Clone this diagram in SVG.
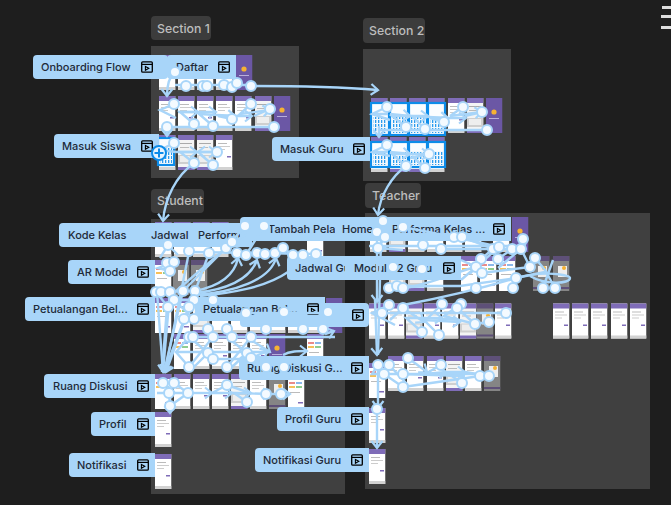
<svg xmlns="http://www.w3.org/2000/svg" width="671" height="505" viewBox="0 0 671 505">
<style>
.sec{fill:#404040}
.chip{fill:#3c3c3c}
.cht{font:500 12.3px Inter,"Liberation Sans",sans-serif;fill:#bdbdbd}
.lb{fill:#a8d5f9}
.lt{font:500 11px Inter,"Liberation Sans",sans-serif;fill:#1e2a38}
.c{fill:none;stroke:#a8d5f9;stroke-width:2.4}
.a{marker-end:url(#ah)}
.d{fill:#f4faff;stroke:#a8d5f9;stroke-width:2}
.sb{fill:#fbfdff;stroke:#0d8ce9;stroke-width:2.2}
.sh{fill:url(#selp)}
</style>
<defs>
<marker id="ah" markerUnits="userSpaceOnUse" markerWidth="12" markerHeight="14" refX="9" refY="7" orient="auto"><path d="M2 1.500L9 7L2 12.500" fill="none" stroke="#a8d5f9" stroke-width="2.200"/></marker>
<pattern id="selp" width="3" height="4" patternUnits="userSpaceOnUse"><rect width="3" height="4" fill="#f2f8fd"/><rect width="1.300" height="3" fill="#2a9bee"/></pattern>
<symbol id="s" width="16.5" height="35" viewBox="0 0 16.5 35"><rect width="16.5" height="35" fill="#fff"/><rect width="16.5" height="5" fill="#7f6cb8"/><rect x="2" y="8" width="9" height="1" fill="#bbb"/><rect x="2" y="11" width="12" height="1" fill="#ccc"/><rect x="2" y="14" width="7" height="1" fill="#ccc"/><rect x="11" y="21" width="4" height="1.500" fill="#7f6cb8"/><rect y="32" width="16.5" height="3" fill="#d2d2d2"/></symbol>
<symbol id="m" width="16.5" height="35" viewBox="0 0 16.5 35"><rect width="16.5" height="35" fill="#f4f4f4"/><rect width="16.5" height="5" fill="#7f6cb8"/><rect x="2" y="8" width="12" height="1" fill="#aaa"/><rect x="2" y="12" width="9" height="1" fill="#bbb"/><rect y="20" width="16.5" height="9" fill="#cfcfcf"/><rect x="2" y="21" width="12" height="6" fill="#eee"/><rect y="32" width="16.5" height="3" fill="#7f6cb8"/></symbol>
<symbol id="p" width="16.5" height="35" viewBox="0 0 16.5 35"><rect width="16.5" height="35" fill="#6b57a5"/><circle cx="8" cy="14" r="2.600" fill="#f6b233"/><rect x="3" y="20" width="10" height="1" fill="#b9aedb"/></symbol>
<symbol id="g" width="16.5" height="35" viewBox="0 0 16.5 35"><rect width="16.5" height="35" fill="#858585"/><rect width="16.5" height="5" fill="#5e5078"/><rect x="5" y="10" width="9" height="11" fill="#eee"/><circle cx="11" cy="12" r="2" fill="#f6b233"/><rect y="31" width="16.5" height="2" fill="#5e5078"/></symbol>
<symbol id="c" width="16.5" height="35" viewBox="0 0 16.5 35"><rect width="16.5" height="35" fill="#fff"/><rect width="16.5" height="5" fill="#7f6cb8"/><rect x="1" y="8" width="6" height="2" fill="#e98a8a"/><rect x="8" y="8" width="6" height="2" fill="#8ab8ea"/><rect x="1" y="12" width="6" height="2" fill="#f6c05a"/><rect x="8" y="12" width="6" height="2" fill="#8fcd8f"/><rect x="2" y="18" width="10" height="1" fill="#bbb"/><rect x="10" y="28" width="5" height="1.500" fill="#7f6cb8"/></symbol>
<symbol id="i" width="12" height="12" viewBox="0 0 12 12"><rect x=".7" y=".8" width="10.600" height="10.400" rx="1" fill="none" stroke="#000" stroke-width="1.300"/><path d="M.7 3.400H11.300" stroke="#000" stroke-width="1.200"/><path d="M4.400 5.400L7.800 7.300L4.400 9.200Z" fill="none" stroke="#000" stroke-width="1.100"/></symbol>
</defs>
<rect width="671" height="505" fill="#1e1e1e"/>
<g fill="#ddd"><rect x="662" y="6" width="9" height="3"/><rect x="661" y="15" width="10" height="3"/><rect x="661" y="26" width="10" height="3"/></g>
<g id="sections">
<rect class="sec" x="151" y="46" width="148" height="132"/>
<rect class="sec" x="363" y="49" width="148" height="132"/>
<rect class="sec" x="151" y="219" width="194" height="275"/>
<rect class="sec" x="365" y="213" width="285" height="276"/>
<rect class="chip" x="151" y="16" width="60" height="24" rx="4"/><text class="cht" x="157" y="32.500">Section 1</text>
<rect class="chip" x="363" y="18" width="62" height="25" rx="4"/><text class="cht" x="369" y="35">Section 2</text>
<rect class="chip" x="151" y="189" width="53" height="24" rx="4"/><text class="cht" x="157" y="205">Student</text>
<rect class="chip" x="365" y="183" width="56" height="25" rx="4"/><text class="cht" x="372" y="200">Teacher</text>
</g>
<g id="screens">
<use href="#s" x="159" y="55"/><use href="#s" x="178" y="55"/><use href="#s" x="197" y="55"/><use href="#s" x="216" y="55"/><use href="#p" x="236" y="55"/>
<use href="#s" x="159" y="96"/><use href="#s" x="178" y="96"/><use href="#s" x="197" y="96"/><use href="#s" x="216" y="96"/><use href="#s" x="235" y="96"/><use href="#m" x="255" y="96"/><use href="#p" x="274" y="96"/>
<use href="#s" x="159" y="135"/><use href="#m" x="178" y="135"/><use href="#m" x="197" y="135"/><use href="#s" x="216" y="135"/>
<use href="#s" x="371" y="98"/><use href="#s" x="390" y="98"/><use href="#s" x="409" y="98"/><use href="#s" x="428" y="98"/><use href="#s" x="448" y="98"/><use href="#m" x="467" y="98"/><use href="#p" x="486" y="98"/>
<use href="#s" x="371" y="137"/><use href="#m" x="390" y="137"/><use href="#m" x="409" y="137"/><use href="#s" x="428" y="137"/>
<use href="#s" x="155" y="222"/><use href="#s" x="174" y="222"/><use href="#s" x="193" y="222"/><use href="#s" x="212" y="222"/><use href="#c" x="307" y="222"/>
<use href="#c" x="155" y="260"/><use href="#g" x="173" y="260"/><use href="#g" x="191" y="260"/>
<use href="#c" x="155" y="298"/><use href="#c" x="174" y="298"/><use href="#m" x="193" y="298"/><use href="#s" x="212" y="298"/><use href="#s" x="231" y="298"/><use href="#s" x="250" y="298"/><use href="#s" x="269" y="298"/><use href="#s" x="288" y="298"/><use href="#s" x="307" y="298"/><use href="#p" x="326" y="298"/>
<use href="#c" x="174" y="334"/><use href="#s" x="193" y="334"/><use href="#s" x="212" y="334"/><use href="#s" x="231" y="334"/><use href="#s" x="250" y="334"/><use href="#p" x="269" y="334"/><use href="#c" x="307" y="334"/>
<use href="#c" x="155" y="374"/><use href="#s" x="174" y="374"/><use href="#s" x="193" y="374"/><use href="#s" x="212" y="374"/><use href="#m" x="231" y="374"/><use href="#s" x="250" y="374"/><use href="#g" x="269" y="374"/><use href="#c" x="288" y="374"/>
<use href="#s" x="155" y="412"/><use href="#s" x="155" y="453" height="37"/>
<use href="#s" x="370" y="217"/><use href="#m" x="389" y="217"/><use href="#s" x="408" y="217"/><use href="#s" x="427" y="217"/><use href="#s" x="446" y="217"/><use href="#s" x="465" y="217"/><use href="#s" x="493" y="217"/><use href="#p" x="512" y="217"/>
<use href="#m" x="389" y="256"/><use href="#m" x="408" y="256"/><use href="#s" x="427" y="256"/><use href="#c" x="461" y="256"/><use href="#c" x="480" y="256"/><use href="#c" x="499" y="256"/><use href="#g" x="533" y="256"/><use href="#g" x="553" y="256"/>
<use href="#s" x="369" y="302" height="38"/><use href="#s" x="388" y="302" height="38"/><use href="#m" x="406" y="302" height="38"/><use href="#s" x="424" y="302" height="38"/><use href="#s" x="442" y="302" height="38"/><use href="#m" x="460" y="302" height="38"/><use href="#g" x="477" y="302" height="38"/><use href="#s" x="495" y="302" height="38"/>
<use href="#s" x="553" y="302" height="38"/><use href="#s" x="572" y="302" height="38"/><use href="#s" x="591" y="302" height="38"/><use href="#s" x="611" y="302" height="38"/><use href="#s" x="630" y="302" height="38"/>
<use href="#c" x="369" y="356" height="49"/><use href="#s" x="388" y="356"/><use href="#s" x="407" y="356"/><use href="#s" x="427" y="356"/><use href="#m" x="446" y="356"/><use href="#s" x="465" y="356"/><use href="#g" x="484" y="356"/>
<use href="#s" x="369" y="408"/><use href="#s" x="369" y="448" height="37"/>
</g>
<g id="selection">
<rect class="sb" x="158" y="138" width="16" height="27"/><rect class="sh" x="160" y="147" width="12" height="16"/>
<rect class="sb" x="371" y="103" width="18" height="32"/><rect class="sb" x="390" y="103" width="18" height="32"/><rect class="sb" x="409" y="103" width="18" height="32"/><rect class="sb" x="428" y="103" width="17" height="32"/>
<rect class="sb" x="371" y="142" width="18" height="25"/><rect class="sb" x="390" y="142" width="18" height="25"/><rect class="sb" x="409" y="142" width="18" height="25"/><rect class="sb" x="428" y="142" width="17" height="25"/>
<rect class="sh" x="373" y="117" width="14" height="16"/><rect class="sh" x="392" y="117" width="14" height="16"/><rect class="sh" x="411" y="117" width="14" height="16"/><rect class="sh" x="430" y="117" width="13" height="16"/>
<rect class="sh" x="373" y="151" width="14" height="14"/><rect class="sh" x="392" y="151" width="14" height="14"/><rect class="sh" x="411" y="151" width="14" height="14"/><rect class="sh" x="430" y="151" width="13" height="14"/>
</g>
<g id="node-onboarding-flow"><rect class="lb" x="33" y="55" width="135" height="24" rx="4"/><text class="lt" x="41" y="71">Onboarding Flow</text><use href="#i" x="141" y="61"/></g>
<g id="node-daftar"><path class="lb" d="M171 55H236V79H171Q167 79 167 75V59Q167 55 171 55Z"/><text class="lt" x="176" y="71">Daftar</text><use href="#i" x="218" y="61"/></g>
<g id="node-masuk-siswa"><path class="lb" d="M58 134H159V158H58Q54 158 54 154V138Q54 134 58 134Z"/><text class="lt" x="62" y="150">Masuk Siswa</text><use href="#i" x="141" y="140"/></g>
<g id="node-masuk-guru"><path class="lb" d="M276 137H370V161H276Q272 161 272 157V141Q272 137 276 137Z"/><text class="lt" x="280" y="153">Masuk Guru</text><use href="#i" x="353" y="143"/></g>
<g id="node-kode-kelas"><rect class="lb" x="59" y="223" width="100" height="24" rx="4"/><text class="lt" x="68" y="239">Kode Kelas</text></g>
<g id="node-jadwal"><rect class="lb" x="142" y="223" width="60" height="24"/><text class="lt" x="151" y="239">Jadwal</text></g>
<g id="node-performa"><rect class="lb" x="190" y="223" width="62" height="24"/><text class="lt" x="198" y="239">Performa</text></g>
<g id="node-tambah-pelajaran"><path class="lb" d="M244 217H345V241H244Q240 241 240 237V221Q240 217 244 217Z"/><text class="lt" x="268" y="233">Tambah Pela</text></g>
<g id="node-home"><rect class="lb" x="335" y="217" width="60" height="24"/><text class="lt" x="342" y="233">Home</text></g>
<g id="node-performa-kelas"><rect class="lb" x="385" y="217" width="126" height="24"/><text class="lt" x="392" y="233">Performa Kelas ...</text><use href="#i" x="493" y="223"/></g>
<g id="node-jadwal-guru"><path class="lb" d="M291 256H350V280H291Q287 280 287 276V260Q287 256 291 256Z"/><text class="lt" x="295" y="272">Jadwal Gu</text></g>
<g id="node-modul"><rect class="lb" x="345" y="256" width="116" height="24"/><text class="lt" x="354" y="272">Modul P2 Grou</text><use href="#i" x="443" y="262"/></g>
<g id="node-ar-model"><path class="lb" d="M72 260H155V284H72Q68 284 68 280V264Q68 260 72 260Z"/><text class="lt" x="77" y="276">AR Model</text><use href="#i" x="137" y="266"/></g>
<g id="node-petualangan-belajar"><path class="lb" d="M29 297H155V321H29Q25 321 25 317V301Q25 297 29 297Z"/><text class="lt" x="33" y="313">Petualangan Bel...</text><use href="#i" x="137" y="303"/></g>
<g id="node-petualangan-guru"><rect class="lb" x="240" y="303" width="129" height="24" rx="4"/><use href="#i" x="352" y="309"/></g>
<g id="node-petualangan-belajar-2"><rect class="lb" x="195" y="297" width="130" height="24"/><text class="lt" x="203" y="313">Petualangan Bel...</text><use href="#i" x="307" y="303"/></g>
<g id="node-ruang-diskusi"><path class="lb" d="M48 374H155V398H48Q44 398 44 394V378Q44 374 48 374Z"/><text class="lt" x="53" y="390">Ruang Diskusi</text><use href="#i" x="137" y="380"/></g>
<g id="node-ruang-diskusi-guru"><path class="lb" d="M243 356H369V380H243Q239 380 239 376V360Q239 356 243 356Z"/><text class="lt" x="247" y="372">Ruang Diskusi G...</text><use href="#i" x="351" y="362"/></g>
<g id="node-profil"><path class="lb" d="M95 412H155V436H95Q91 436 91 432V416Q91 412 95 412Z"/><text class="lt" x="99" y="428">Profil</text><use href="#i" x="137" y="418"/></g>
<g id="node-profil-guru"><path class="lb" d="M281 407H369V431H281Q277 431 277 427V411Q277 407 281 407Z"/><text class="lt" x="285" y="423">Profil Guru</text><use href="#i" x="351" y="413"/></g>
<g id="node-notifikasi"><path class="lb" d="M73 453H155V477H73Q69 477 69 473V457Q69 453 73 453Z"/><text class="lt" x="77" y="469">Notifikasi</text><use href="#i" x="137" y="459"/></g>
<g id="node-notifikasi-guru"><path class="lb" d="M259 448H369V472H259Q255 472 255 468V452Q255 448 259 448Z"/><text class="lt" x="263" y="464">Notifikasi Guru</text><use href="#i" x="351" y="454"/></g>
<g id="connectors" class="c">
<path class="a" d="M251 86C300 86 340 87 378 90"/><path class="a" d="M194 163C176 176 165 198 163 221"/><path class="a" d="M406 166C392 176 380 195 378 215"/>
<path class="a" d="M175 72C170 76 167 84 167 96"/><path d="M175 85H251"/><path class="a" d="M167 127V136"/><path d="M167 127H274"/>
<path d="M174 104L160 110L176 118M160 110L176 103"/><path class="a" d="M178 112L198 112"/><path class="a" d="M194 124L180 112L216 112"/><path class="a" d="M213 126L199 114L235 116"/><path class="a" d="M232 119L218 116L252 116"/><path class="a" d="M251 104L240 114L270 110"/><path d="M270 109L254 116"/>
<path d="M174 143L160 150L176 152"/><path class="a" d="M176 152L197 152"/><path class="a" d="M194 163L180 152L216 152"/><path class="a" d="M217 152L198 152"/><path d="M213 165L200 154"/>
<path class="a" d="M379 126V137"/><path d="M379 130H487"/><path d="M387 107L372 114L390 120M372 114L388 114"/><path class="a" d="M390 114L410 116"/><path class="a" d="M406 127L392 116L428 116"/><path class="a" d="M425 129L412 116L448 118"/><path class="a" d="M444 122L430 118L466 118"/><path class="a" d="M463 107L450 116L482 112"/><path d="M482 112L465 116"/>
<path d="M387 145L372 152L390 156M372 152L388 152"/><path class="a" d="M390 152L410 154"/><path class="a" d="M406 166L392 154L429 154"/><path d="M429 154L410 158"/><path d="M425 168L412 156"/>
<path class="a" d="M377 232L377 302"/><path class="a" d="M375 300L377 355"/><path class="a" d="M378 365V408"/><path class="a" d="M377 409L377 448"/><path d="M381 240L378 355"/>
<path d="M369 246H525M378 248L403 250M441 249L512 249"/><path d="M523 239C528 245 525 249 512 249"/><path d="M383 221L378 232L385 237L378 248"/><path d="M403 227L454 237"/><path d="M454 237L500 247"/><path d="M462 237L493 249"/><path d="M493 249L481 259M499 247L476 267M512 249L498 259M521 249L530 267M521 249L498 268"/>
<path class="a" d="M403 288C430 285 460 270 476 267"/><path d="M389 288L430 286"/><path d="M397 286H460L516 278"/><path d="M403 305C430 300 470 292 516 278"/>
<path d="M461 260L476 267L461 280M482 273L530 267M516 278L545 272"/><path d="M535 258L545 270L555 288M553 260L543 288"/><path d="M516 278C545 270 570 275 570 278C570 284 545 285 530 276"/>
<path d="M382 313H506"/><path d="M389 305L372 313L395 325M403 308L390 320M442 304L428 318L460 320M461 304L444 316L475 324"/><path class="a" d="M403 308L424 322"/><path class="a" d="M422 332L406 318L442 318"/><path class="a" d="M439 335L424 320L460 322"/><path d="M475 324L489 322"/><path d="M457 308L475 324"/>
<path d="M378 365L372 374L404 374H480M389 365L408 385M384 374L403 387"/><path class="a" d="M408 358L427 372"/><path class="a" d="M441 365L425 374L446 372"/><path d="M403 374L465 376M403 387L480 376"/><path class="a" d="M462 383L446 372L465 372"/><path d="M465 372L489 376"/>
<path class="a" d="M189 252L165 372"/><path class="a" d="M209 253L166 372"/><path d="M226 248L175 292"/><path d="M232 242L183 291"/><path class="a" d="M170 292L163 372"/><path class="a" d="M183 291L164 372"/><path d="M157 292L163 372"/><path d="M167 307L162 372M189 307L164 372"/>
<path class="a" d="M195 291C215 287 234 278 238 258"/><path class="a" d="M195 293C225 290 250 280 257 260"/><path class="a" d="M195 295C235 292 270 280 276 258"/><path d="M200 296C230 293 265 288 288 272"/><path d="M168 245L160 258M168 245L178 255"/>
<path d="M189 252L316 254M232 242L264 226M245 226L226 248M264 226L246 255M283 248L293 255"/><path d="M189 337H335"/><path class="a" d="M325 334L334 331"/><path d="M168 307L156 292L195 291"/>
<path d="M174 300L213 300M174 262L158 268L170 271M193 300L184 319M174 300L194 319M246 313H328"/>
<path d="M176 352H269"/><path d="M189 337L176 352L189 367M208 353L194 341M208 353L194 367M247 353L232 341M247 353L232 367"/><path class="a" d="M251 340L270 352"/><path class="a" d="M251 358L268 351"/><path class="a" d="M283 355C290 351 298 351 307 351"/><path d="M213 359H251"/><path d="M189 367L213 337M227 367L251 337"/>
<path d="M163 383L175 393H188L157 393M174 383L188 393M169 393L170 406M170 406L188 393"/><path class="a" d="M170 406L170 413"/><path class="a" d="M188 393L212 393"/><path class="a" d="M227 385L212 393L232 393"/><path class="a" d="M232 393L251 393"/><path class="a" d="M247 402L234 393L270 394"/><path class="a" d="M266 394L290 394"/><path d="M227 385L250 393"/>
</g>
<g id="handles" class="d">
<circle cx="175" cy="72" r="5"/><circle cx="186" cy="86" r="5"/><circle cx="203" cy="86" r="5"/><circle cx="207" cy="86" r="5"/><circle cx="224" cy="85" r="5"/><circle cx="232" cy="87" r="5"/><circle cx="237" cy="83" r="5"/><circle cx="251" cy="86" r="5"/>
<circle cx="174" cy="104" r="5"/><circle cx="251" cy="104" r="5"/><circle cx="270" cy="109" r="5"/><circle cx="232" cy="119" r="5"/><circle cx="194" cy="124" r="5"/><circle cx="213" cy="126" r="5"/><circle cx="167" cy="127" r="5"/><circle cx="274" cy="127" r="5"/>
<circle cx="174" cy="143" r="5"/><circle cx="217" cy="152" r="5"/><circle cx="194" cy="163" r="5"/><circle cx="213" cy="165" r="5"/>
<circle cx="387" cy="107" r="5"/><circle cx="463" cy="107" r="5"/><circle cx="482" cy="112" r="5"/><circle cx="444" cy="122" r="5"/><circle cx="406" cy="127" r="5"/><circle cx="425" cy="129" r="5"/><circle cx="487" cy="130" r="5"/><circle cx="387" cy="145" r="5"/><circle cx="429" cy="154" r="5"/><circle cx="406" cy="166" r="5"/><circle cx="425" cy="168" r="5"/>
<circle cx="383" cy="221" r="5"/><circle cx="403" cy="227" r="5"/><circle cx="377" cy="232" r="5"/><circle cx="385" cy="237" r="5"/><circle cx="454" cy="237" r="5"/><circle cx="462" cy="237" r="5"/><circle cx="523" cy="239" r="5"/>
<circle cx="378" cy="248" r="5"/><circle cx="423" cy="245" r="5"/><circle cx="441" cy="249" r="5"/><circle cx="493" cy="249" r="5"/><circle cx="499" cy="247" r="5"/><circle cx="512" cy="249" r="5"/><circle cx="521" cy="249" r="5"/>
<circle cx="481" cy="259" r="5"/><circle cx="498" cy="259" r="5"/><circle cx="535" cy="258" r="5"/><circle cx="476" cy="267" r="5"/><circle cx="530" cy="267" r="5"/><circle cx="482" cy="273" r="5"/><circle cx="516" cy="278" r="5"/><circle cx="393" cy="267" r="5"/><circle cx="422" cy="269" r="5"/>
<circle cx="389" cy="288" r="5"/><circle cx="397" cy="286" r="5"/><circle cx="403" cy="288" r="5"/><circle cx="476" cy="288" r="5"/><circle cx="513" cy="288" r="5"/><circle cx="543" cy="288" r="5"/><circle cx="555" cy="288" r="5"/>
<circle cx="389" cy="305" r="5"/><circle cx="403" cy="308" r="5"/><circle cx="442" cy="304" r="5"/><circle cx="461" cy="304" r="5"/><circle cx="457" cy="308" r="5"/><circle cx="382" cy="313" r="5"/><circle cx="506" cy="313" r="5"/><circle cx="475" cy="324" r="5"/><circle cx="489" cy="322" r="5"/><circle cx="422" cy="332" r="5"/><circle cx="439" cy="335" r="5"/>
<circle cx="378" cy="365" r="5"/><circle cx="389" cy="365" r="5"/><circle cx="408" cy="358" r="5"/><circle cx="441" cy="365" r="5"/><circle cx="384" cy="374" r="5"/><circle cx="403" cy="374" r="5"/><circle cx="480" cy="376" r="5"/><circle cx="489" cy="376" r="5"/><circle cx="462" cy="383" r="5"/><circle cx="403" cy="387" r="5"/><circle cx="377" cy="409" r="5"/>
<circle cx="168" cy="245" r="5"/><circle cx="189" cy="251" r="5"/><circle cx="209" cy="253" r="5"/><circle cx="226" cy="248" r="5"/><circle cx="232" cy="242" r="5"/><circle cx="245" cy="226" r="5"/><circle cx="264" cy="226" r="5"/><circle cx="237" cy="253" r="5"/><circle cx="246" cy="255" r="5"/><circle cx="257" cy="253" r="5"/><circle cx="265" cy="254" r="5"/><circle cx="275" cy="253" r="5"/><circle cx="283" cy="248" r="5"/><circle cx="293" cy="255" r="5"/><circle cx="303" cy="255" r="5"/><circle cx="316" cy="254" r="5"/>
<circle cx="167" cy="263" r="5"/><circle cx="174" cy="262" r="5"/><circle cx="170" cy="271" r="5"/><circle cx="156" cy="292" r="5"/><circle cx="161" cy="292" r="5"/><circle cx="170" cy="292" r="5"/><circle cx="183" cy="291" r="5"/><circle cx="195" cy="291" r="5"/>
<circle cx="174" cy="300" r="5"/><circle cx="194" cy="300" r="5"/><circle cx="213" cy="300" r="5"/><circle cx="168" cy="307" r="5"/><circle cx="189" cy="307" r="5"/><circle cx="246" cy="313" r="5"/><circle cx="284" cy="312" r="5"/><circle cx="328" cy="312" r="5"/><circle cx="184" cy="319" r="5"/><circle cx="194" cy="319" r="5"/>
<circle cx="208" cy="329" r="5"/><circle cx="227" cy="329" r="5"/><circle cx="266" cy="329" r="5"/><circle cx="303" cy="329" r="5"/><circle cx="323" cy="329" r="5"/>
<circle cx="189" cy="337" r="5"/><circle cx="193" cy="337" r="5"/><circle cx="213" cy="337" r="5"/><circle cx="232" cy="337" r="5"/><circle cx="251" cy="337" r="5"/>
<circle cx="208" cy="353" r="5"/><circle cx="247" cy="353" r="5"/><circle cx="213" cy="359" r="5"/><circle cx="251" cy="358" r="5"/><circle cx="189" cy="367" r="5"/><circle cx="227" cy="367" r="5"/><circle cx="266" cy="367" r="5"/><circle cx="284" cy="367" r="5"/>
<circle cx="163" cy="383" r="5"/><circle cx="174" cy="383" r="5"/><circle cx="169" cy="393" r="5"/><circle cx="188" cy="393" r="5"/><circle cx="170" cy="406" r="5"/><circle cx="227" cy="385" r="5"/><circle cx="266" cy="394" r="5"/><circle cx="281" cy="394" r="5"/><circle cx="247" cy="402" r="5"/>
</g>
<g id="add"><circle cx="159" cy="153" r="7" fill="#e8f4fe" stroke="#0d8ce9" stroke-width="2"/><path d="M159 148.500V157.500M154.500 153H163.500" stroke="#0d8ce9" stroke-width="2"/></g>
</svg>
